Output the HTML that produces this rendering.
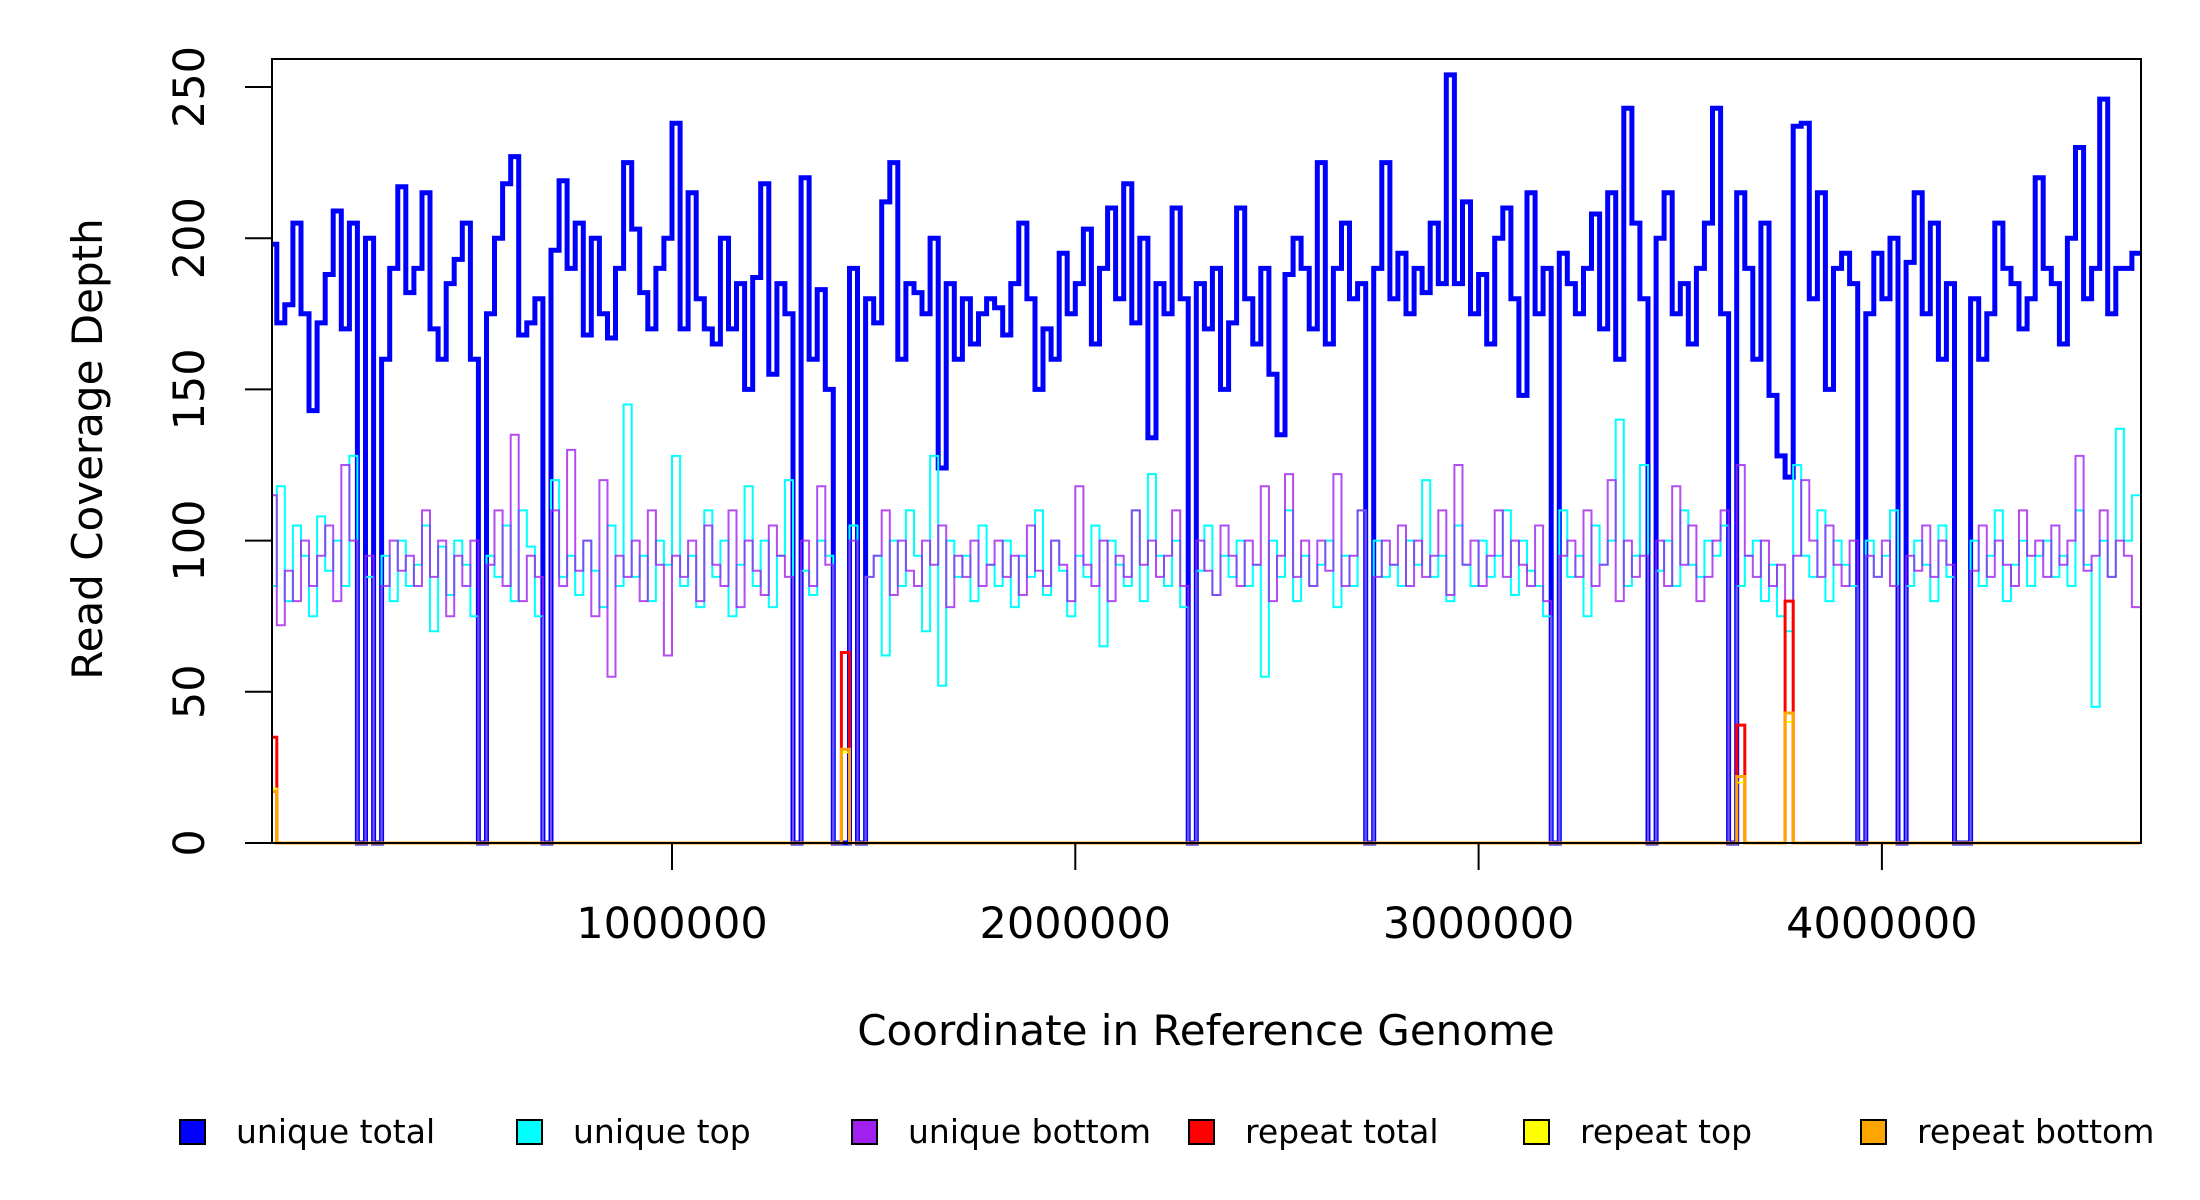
<!DOCTYPE html>
<html><head><meta charset="utf-8"><style>
html,body{margin:0;padding:0;background:#fff;}
svg{display:block;font-family:"DejaVu Sans","Liberation Sans",sans-serif;}
</style></head><body>
<svg id="chart" width="2200" height="1200" viewBox="0 0 2200 1200"></svg>
<script>
const binSize = 20000;
const uniqueTotal = [198,172,178,205,175,143,172,188,209,170,
205,0,200,0,160,190,217,182,190,215,
170,160,185,193,205,160,0,175,200,218,
227,168,172,180,0,196,219,190,205,168,
200,175,167,190,225,203,182,170,190,200,
238,170,215,180,170,165,200,170,185,150,
187,218,155,185,175,0,220,160,183,150,
0,0,190,0,180,172,212,225,160,185,
182,175,200,124,185,160,180,165,175,180,
177,168,185,205,180,150,170,160,195,175,
185,203,165,190,210,180,218,172,200,134,
185,175,210,180,0,185,170,190,150,172,
210,180,165,190,155,135,188,200,190,170,
225,165,190,205,180,185,0,190,225,180,
195,175,190,182,205,185,254,185,212,175,
188,165,200,210,180,148,215,175,190,0,
195,185,175,190,208,170,215,160,243,205,
180,0,200,215,175,185,165,190,205,243,
175,0,215,190,160,205,148,128,121,237,
238,180,215,150,190,195,185,0,175,195,
180,200,0,192,215,175,205,160,185,0,
0,180,160,175,205,190,185,170,180,220,
190,185,165,200,230,180,190,246,175,190,
190,195];
const uniqueTop = [85,118,80,105,95,75,108,90,100,85,
128,0,88,0,95,80,100,85,92,105,
70,98,82,100,92,75,0,95,88,105,
80,110,98,75,0,120,88,95,82,100,
90,78,105,85,145,88,95,80,100,92,
128,85,95,78,110,88,100,75,92,118,
85,100,78,95,120,0,90,82,100,95,
0,0,105,0,88,95,62,100,85,110,
95,70,128,52,100,88,95,80,105,92,
85,100,78,95,88,110,82,100,90,75,
95,88,105,65,100,92,85,110,80,122,
95,85,100,78,0,90,105,82,95,88,
100,85,92,55,100,88,110,80,95,85,
92,100,78,95,85,110,0,100,88,92,
85,100,92,120,88,95,80,105,92,85,
100,88,95,110,82,100,90,85,75,0,
110,88,95,75,105,92,100,140,85,95,
125,0,90,100,85,110,92,88,100,95,
105,0,85,95,100,80,92,75,70,125,
95,88,110,80,100,92,85,0,100,88,
95,110,0,85,100,92,80,105,88,0,
0,100,85,95,110,80,92,100,85,95,
100,88,95,85,110,92,45,100,88,137,
100,115];
const uniqueBottom = [115,72,90,80,100,85,95,105,80,125,
100,0,95,0,85,100,90,95,85,110,
88,100,75,95,85,100,0,92,110,85,
135,80,95,88,0,110,85,130,90,100,
75,120,55,95,88,100,80,110,92,62,
95,88,100,80,105,92,85,110,78,100,
90,82,105,95,88,0,100,85,118,92,
0,0,100,0,88,95,110,82,100,90,
85,100,92,105,78,95,88,100,85,92,
100,88,95,82,105,90,85,100,92,80,
118,92,85,100,80,95,88,110,92,100,
88,95,110,85,0,100,90,82,105,95,
85,100,92,118,80,95,122,88,100,85,
100,90,122,85,95,110,0,88,100,92,
105,85,100,88,95,110,82,125,92,100,
85,95,110,88,100,92,85,105,80,0,
95,100,88,110,85,92,120,80,100,88,
95,0,100,85,118,92,105,80,88,100,
110,0,125,95,88,100,85,92,80,95,
120,100,88,105,92,85,100,0,95,88,
100,85,0,95,90,105,88,100,92,0,
0,90,105,88,100,92,85,110,95,100,
88,105,92,100,128,90,95,110,88,100,
95,78];
const spikeBins = [0,71,182,188];
const repeatTotalSpikes = [35,63,39,80];
const repeatTopSpikes = [18,30,20,40];
const repeatBottomSpikes = [17,31,22,43];
const yTicks = [0,50,100,150,200,250];
const xTicks = [1000000,2000000,3000000,4000000];
const xTickLabels = ["1000000","2000000","3000000","4000000"];
const legendLabels = ["unique total","unique top","unique bottom","repeat total","repeat top","repeat bottom"];
const legendColors = ["#0000ff","#00ffff","#a020f0","#ff0000","#ffff00","#ffa500"];

const NS="http://www.w3.org/2000/svg";
const svg=document.getElementById('chart');
const PL=272,PR=2141,PT=59,PB=856;
function xs(c){return 268.7+c/1e6*403.3;}
function ys(v){return 843-v*3.024;}
function mk(tag,attrs,parent){const e=document.createElementNS(NS,tag);for(const k in attrs)e.setAttribute(k,attrs[k]);(parent||svg).appendChild(e);return e;}
const nBins=uniqueTotal.length;
function expand(bins,vals){const a=new Array(nBins).fill(0);bins.forEach((b,i)=>a[b]=vals[i]);return a;}
function stepPath(vals){
  let d='';
  for(let i=0;i<vals.length;i++){
    const x0=xs(Math.max(i*binSize,8000)),x1=xs(Math.min((i+1)*binSize,4642000)),y=ys(vals[i]);
    d+=(i===0?'M':'L')+x0.toFixed(1)+','+y.toFixed(1)+'L'+x1.toFixed(1)+','+y.toFixed(1);
  }
  return d;
}
const clip=mk('clipPath',{id:'pc'});mk('rect',{x:PL,y:PT,width:PR-PL,height:PB-PT},clip);
const g=mk('g',{'clip-path':'url(#pc)'});
const series=[
 [uniqueTotal,'#0000ff',5,'unique-total-line'],
 [uniqueTop,'#00ffff',2,'unique-top-line'],
 [uniqueBottom,'#a020f0',2,'unique-bottom-line'],
 [expand(spikeBins,repeatTotalSpikes),'#ff0000',3,'repeat-total-line'],
 [expand(spikeBins,repeatTopSpikes),'#ffff00',2,'repeat-top-line'],
 [expand(spikeBins,repeatBottomSpikes),'#ffa500',3,'repeat-bottom-line']];
series.forEach(s=>{
  const p=mk('path',{d:stepPath(s[0]),fill:'none',stroke:s[1],'stroke-width':s[2],'stroke-linejoin':'miter',opacity:s[1]=='#a020f0'?0.8:1},g);
  
  
});
// frame
const fr=mk('rect',{x:PL,y:PT,width:PR-PL,height:843-PT,fill:'none',stroke:'#000','stroke-width':2});


// y axis
yTicks.forEach(v=>{
  const y=ys(v);
  mk('line',{x1:245,x2:PL,y1:y,y2:y,stroke:'#000','stroke-width':2});
  const t=mk('text',{x:0,y:0,transform:`translate(204,${y}) rotate(-90)`,'text-anchor':'middle','font-size':43});
  t.textContent=v;
  
  
});
// x axis
xTicks.forEach((c,i)=>{
  const x=xs(c);
  mk('line',{x1:x,x2:x,y1:843,y2:870,stroke:'#000','stroke-width':2});
  const t=mk('text',{x:x,y:938,'text-anchor':'middle','font-size':43});
  t.textContent=xTickLabels[i];
  
  
});
const yt=mk('text',{transform:'translate(102,449) rotate(-90)','text-anchor':'middle','font-size':42});
yt.textContent='Read Coverage Depth';


const xt=mk('text',{x:1206,y:1045,'text-anchor':'middle','font-size':42});
xt.textContent='Coordinate in Reference Genome';


// legend
const lx=[180,517,852,1189,1524,1861];
legendLabels.forEach((lab,i)=>{
  const lg=mk('g',{});
  
  
  mk('rect',{x:lx[i],y:1120,width:25,height:24,fill:legendColors[i],stroke:'#000','stroke-width':2},lg);
  const t=mk('text',{x:lx[i]+56,y:1143,'font-size':33},lg);
  t.textContent=lab;
});
</script>
</body></html>
